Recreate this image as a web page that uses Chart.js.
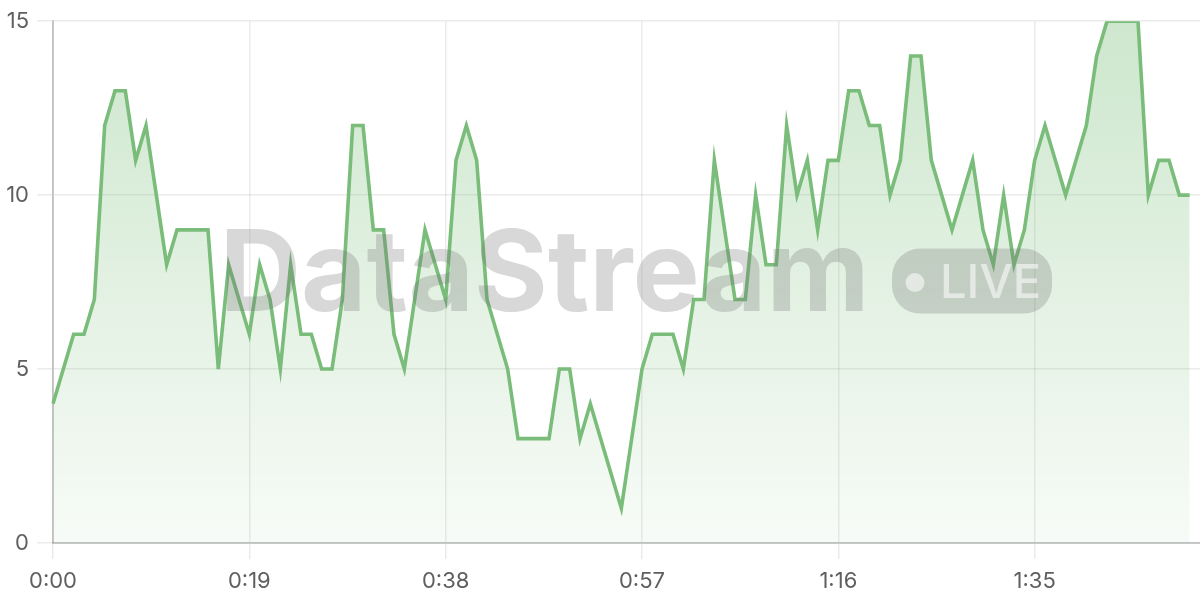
<!DOCTYPE html>
<html>
<head>
<meta charset="utf-8">
<script src="https://cdn.jsdelivr.net/npm/chart.js@4.4.0/dist/chart.umd.min.js"></script>
<style>
  html, body { margin: 0; padding: 0; background: #fff; }
  #wrap { width: 1200px; height: 600px; }
</style>
</head>
<body>
<div id="wrap"><canvas id="streamChart"></canvas></div>
<script>
// one reading per second
const values = [
  4, 5, 6, 6, 7, 12, 13, 13, 11, 12,
  10, 8, 9, 9, 9, 9, 5, 8, 7, 6,
  8, 7, 5, 8, 6, 6, 5, 5, 7, 12,
  12, 9, 9, 6, 5, 7, 9, 8, 7, 11,
  12, 11, 7, 6, 5, 3, 3, 3, 3, 5,
  5, 3, 4, 3, 2, 1, 3, 5, 6, 6,
  6, 5, 7, 7, 11, 9, 7, 7, 10, 8,
  8, 12, 10, 11, 9, 11, 11, 13, 13, 12,
  12, 10, 11, 14, 14, 11, 10, 9, 10, 11,
  9, 8, 10, 8, 9, 11, 12, 11, 10, 11,
  12, 14, 15, 15, 15, 15, 10, 11, 11, 10,
  10
];
const tickLabels = ['0:00', '0:19', '0:38', '0:57', '1:16', '1:35'];
const yTicks = [0, 5, 10, 15];

// categories: m:ss for every second, one slot past the last reading
const timeLabels = [];
for (let s = 0; s <= values.length; s++) {
  timeLabels.push(Math.floor(s / 60) + ':' + String(s % 60).padStart(2, '0'));
}

const LINE_COLOR = '#7abd7a';
const TICK_FONT = { family: 'Inter', size: 22 };

const watermark = {
  id: 'watermark',
  afterDatasetsDraw(chart) {
    const { ctx, chartArea } = chart;
    const cx = (chartArea.left + chartArea.right) / 2;
    const cy = (chartArea.top + chartArea.bottom) / 2;
    ctx.save();
    ctx.fillStyle = 'rgba(110,110,110,0.27)';

    // big word
    ctx.font = 'bold 113px Inter';
    ctx.textAlign = 'left';
    ctx.textBaseline = 'alphabetic';
    const w = ctx.measureText('DataStream').width;
    ctx.save();
    ctx.translate(cx - 407, cy + 28.5);
    ctx.scale(650 / w, 1);
    ctx.fillText('DataStream', 0, 0);
    ctx.restore();

    // pill
    const px = cx + 265.5, py = cy - 33.5, pw = 160, ph = 65;
    ctx.beginPath();
    ctx.roundRect(px, py, pw, ph, 28);
    ctx.fill();

    ctx.fillStyle = 'rgba(255,255,255,0.55)';
    ctx.beginPath();
    ctx.arc(cx + 288.5, cy + 0.5, 9.5, 0, Math.PI * 2);
    ctx.fill();
    ctx.font = '500 47px Inter';
    ctx.fillText('LIVE', cx + 313.5, cy + 15.5);
    ctx.restore();
  }
};

new Chart(document.getElementById('streamChart'), {
  type: 'line',
  data: {
    labels: timeLabels,
    datasets: [{
      data: values,
      borderColor: LINE_COLOR,
      borderWidth: 3.6,
      pointRadius: 0,
      tension: 0,
      fill: 'origin',
      backgroundColor: function (context) {
        const { ctx, chartArea } = context.chart;
        if (!chartArea) return null;
        const g = ctx.createLinearGradient(0, chartArea.top, 0, chartArea.bottom);
        g.addColorStop(0, 'rgba(124,191,124,0.38)');
        g.addColorStop(1, 'rgba(124,191,124,0.06)');
        return g;
      }
    }]
  },
  options: {
    responsive: true,
    maintainAspectRatio: false,
    animation: false,
    layout: { padding: { top: 20, right: 0, left: 0, bottom: 0 } },
    plugins: {
      legend: { display: false },
      tooltip: { enabled: false }
    },
    scales: {
      x: {
        grid: { color: 'rgba(0,0,0,0.08)', lineWidth: 1.5, tickLength: 16 },
        border: { color: 'rgba(0,0,0,0.18)', width: 2 },
        ticks: {
          autoSkip: false,
          maxRotation: 0,
          color: '#5f5f5f',
          font: TICK_FONT,
          padding: 9,
          callback: function (value, index) {
            const label = timeLabels[index];
            return tickLabels.includes(label) ? label : null;
          }
        },
        afterFit: function (scale) { scale.height = 57; }
      },
      y: {
        min: yTicks[0],
        max: yTicks[yTicks.length - 1],
        grid: { color: 'rgba(0,0,0,0.08)', lineWidth: 1.5, tickLength: 16 },
        border: { color: 'rgba(0,0,0,0.18)', width: 2 },
        ticks: {
          stepSize: yTicks[1] - yTicks[0],
          color: '#5f5f5f',
          font: TICK_FONT,
          padding: 8
        },
        afterFit: function (scale) { scale.width = 53; }
      }
    }
  },
  plugins: [watermark]
});
</script>
</body>
</html>
